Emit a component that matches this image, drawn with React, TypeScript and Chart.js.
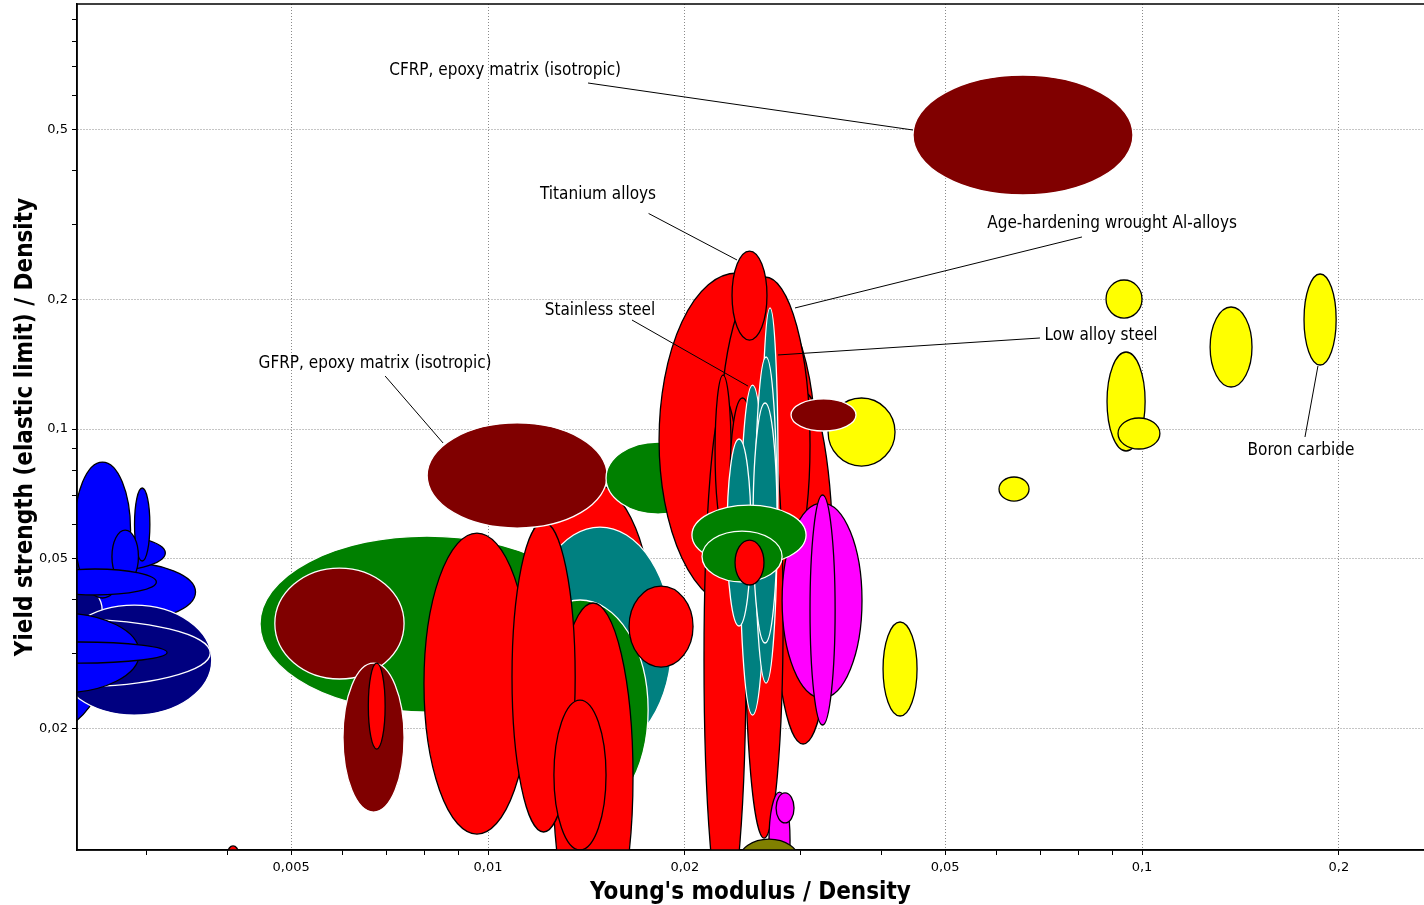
import { useEffect, useRef } from 'react';
import { Chart, registerables } from 'chart.js';

Chart.register(...registerables);

// ---- axis ranges (Young's modulus / Density on x, Yield strength / Density on y) ----
const X_MIN = 0.002352;
const X_MAX = 0.2699;
const Y_MIN = 0.01044;
const Y_MAX = 0.9788;

const xTickValues = [0.003, 0.004, 0.005, 0.006, 0.007, 0.008, 0.009, 0.01, 0.02, 0.03, 0.04, 0.05, 0.06, 0.07, 0.08, 0.09, 0.1, 0.2];
const xTickLabels = ['', '', '0,005', '', '', '', '', '0,01', '0,02', '', '', '0,05', '', '', '', '', '0,1', '0,2'];
const yTickValues = [0.02, 0.03, 0.04, 0.05, 0.06, 0.07, 0.08, 0.09, 0.1, 0.2, 0.3, 0.4, 0.5, 0.6, 0.7, 0.8, 0.9];
const yTickLabels = ['0,02', '', '', '0,05', '', '', '', '', '0,1', '0,2', '', '', '0,5', '', '', '', ''];

const xTitle = "Young's modulus / Density";
const yTitle = 'Yield strength (elastic limit) / Density';

// ---- material property envelopes (drawn in this order) ----
const materialGroup = [
  'polymer', 'polymer', 'elastomer', 'polymer', 'polymer', 'polymer', 'polymer', 'polymer',
  'elastomer', 'elastomer', 'polymer', 'polymer', 'nonferrous',
  'natural', 'composite', 'composite', 'nonferrous', 'nonferrous', 'ferrous', 'natural',
  'nonferrous', 'nonferrous', 'nonferrous', 'nonferrous', 'nonferrous', 'composite', 'natural',
  'nonferrous', 'nonferrous', 'nonferrous', 'nonferrous', 'nonferrous', 'nonferrous', 'nonferrous',
  'glass', 'glass', 'ferrous', 'ferrous', 'ferrous', 'ferrous', 'ferrous', 'natural', 'natural',
  'nonferrous', 'ceramic', 'composite', 'nonferrous', 'glass', 'glass', 'porous',
  'ceramic', 'ceramic', 'ceramic', 'ceramic', 'ceramic', 'ceramic', 'ceramic', 'composite',
];
const modulusMin = [
  0.00161, 0.00210, 0.00155, 0.00189, 0.00233, 0.00288, 0.00266, 0.00202,
  0.00219, 0.00140, 0.00168, 0.00175, 0.00400,
  0.00448, 0.00472, 0.00600, 0.00656, 0.01119, 0.01151, 0.01088,
  0.01257, 0.00798, 0.01088, 0.01261, 0.01643, 0.00807, 0.01515,
  0.01826, 0.02728, 0.02264, 0.02139, 0.02472, 0.02224, 0.02344,
  0.02816, 0.03107, 0.02429, 0.02320, 0.02624, 0.02560, 0.02542, 0.02050, 0.02124,
  0.02386, 0.03311, 0.02906, 0.02361, 0.02689, 0.02757, 0.02420,
  0.04018, 0.06044, 0.08810, 0.08841, 0.09190, 0.1271, 0.1769, 0.04465,
];
const modulusMax = [
  0.00264, 0.00357, 0.00257, 0.00321, 0.00284, 0.00304, 0.00292, 0.00311,
  0.00378, 0.00376, 0.00293, 0.00323, 0.00415,
  0.01452, 0.00744, 0.00744, 0.00696, 0.01769, 0.01911, 0.01757,
  0.01666, 0.01159, 0.01359, 0.01515, 0.02058, 0.01521, 0.02185,
  0.03162, 0.03370, 0.03107, 0.02480, 0.02826, 0.02353, 0.02560,
  0.03731, 0.03394, 0.02652, 0.02524, 0.02776, 0.02767, 0.02767, 0.03064, 0.02816,
  0.02642, 0.04191, 0.03653, 0.02670, 0.02896, 0.02937, 0.02989,
  0.04529, 0.06718, 0.1000, 0.1011, 0.1065, 0.1473, 0.1981, 0.09687,
];
const strengthMin = [
  0.01935, 0.03549, 0.03054, 0.04617, 0.04037, 0.04925, 0.04375, 0.04103,
  0.02154, 0.02504, 0.02425, 0.02847, 0.00989,
  0.02189, 0.02614, 0.01280, 0.01795, 0.01884, 0.01757, 0.01226,
  0.00610, 0.01137, 0.01150, 0.01044, 0.02787, 0.05877, 0.06335,
  0.03847, 0.01844, 0.03725, 0.00717, 0.01113, 0.05909, 0.04951,
  0.02360, 0.02042, 0.02154, 0.03474, 0.03364, 0.02558, 0.03171, 0.04819, 0.04399,
  0.04329, 0.08198, 0.09893, 0.1612, 0.00851, 0.01207, 0.00884,
  0.02143, 0.06794, 0.1814, 0.08887, 0.08982, 0.1253, 0.1410, 0.3512,
];
const strengthMax = [
  0.05365, 0.04898, 0.04692, 0.05722, 0.08376, 0.07286, 0.05814, 0.04717,
  0.03888, 0.03607, 0.03725, 0.03188, 0.01067,
  0.05630, 0.04742, 0.02847, 0.02847, 0.07606, 0.05909, 0.03994,
  0.03930, 0.05722, 0.06069, 0.02334, 0.04305, 0.1033, 0.09326,
  0.2310, 0.1220, 0.2261, 0.1169, 0.1181, 0.1336, 0.1181,
  0.06721, 0.07017, 0.1266, 0.09478, 0.1915, 0.1472, 0.1150, 0.06649, 0.05783,
  0.05511, 0.1181, 0.1175, 0.2599, 0.01425, 0.01418, 0.01107,
  0.03549, 0.07730, 0.2225, 0.1512, 0.1061, 0.1925, 0.2298, 0.6686,
];

// ---- annotations ----
const labelText = [
  'CFRP, epoxy matrix (isotropic)', 'Titanium alloys', 'Age-hardening wrought Al-alloys',
  'Stainless steel', 'Low alloy steel', 'GFRP, epoxy matrix (isotropic)', 'Boron carbide',
];
const labelX = [0.01062, 0.01473, 0.0900, 0.01483, 0.08656, 0.006718, 0.1750];
const labelY = [0.6831, 0.3512, 0.3005, 0.1884, 0.1647, 0.1417, 0.08887];
const leaderFromX = [0.01422, 0.01760, 0.08094, 0.01660, 0.06982, 0.00696, 0.1775];
const leaderFromY = [0.6405, 0.3180, 0.2803, 0.1795, 0.1630, 0.1329, 0.09580];
const leaderToX = [0.04465, 0.02403, 0.02947, 0.02498, 0.02776, 0.008535, 0.1858];
const leaderToY = [0.4977, 0.2477, 0.1915, 0.1259, 0.1488, 0.09277, 0.1403];

const groupStyles: Record<string, { fill: string; stroke: string }> = {
  polymer: { fill: '#0000ff', stroke: '#000000' },
  elastomer: { fill: '#000080', stroke: '#ffffff' },
  nonferrous: { fill: '#ff0000', stroke: '#000000' },
  ferrous: { fill: '#008080', stroke: '#ffffff' },
  composite: { fill: '#800000', stroke: '#ffffff' },
  natural: { fill: '#008000', stroke: '#ffffff' },
  ceramic: { fill: '#ffff00', stroke: '#000000' },
  glass: { fill: '#ff00ff', stroke: '#000000' },
  porous: { fill: '#808000', stroke: '#000000' },
};

const LABEL_FONT = '17px "DejaVu Sans Condensed", "DejaVu Sans", sans-serif';
const TICK_FONT = { family: '"DejaVu Sans", sans-serif', size: 13 };
const TITLE_FONT = { family: '"DejaVu Sans Condensed", "DejaVu Sans", sans-serif', size: 24, weight: 'bold' as const };
const GRID_COLOR = '#8a8a8a';

const ashbyPlugin = {
  id: 'ashby',
  beforeDatasetsDraw(chart: any) {
    const { ctx, chartArea: a, scales } = chart;
    const xs = scales.x;
    const ys = scales.y;
    ctx.save();
    ctx.beginPath();
    ctx.rect(a.left, a.top, a.right - a.left, a.bottom - a.top);
    ctx.clip();
    for (let i = 0; i < materialGroup.length; i++) {
      const st = groupStyles[materialGroup[i]];
      const x0 = xs.getPixelForValue(modulusMin[i]);
      const x1 = xs.getPixelForValue(modulusMax[i]);
      const y0 = ys.getPixelForValue(strengthMin[i]);
      const y1 = ys.getPixelForValue(strengthMax[i]);
      ctx.beginPath();
      ctx.ellipse((x0 + x1) / 2, (y0 + y1) / 2, Math.abs(x1 - x0) / 2, Math.abs(y1 - y0) / 2, 0, 0, Math.PI * 2);
      ctx.fillStyle = st.fill;
      ctx.fill();
      ctx.lineWidth = 1.3;
      ctx.strokeStyle = st.stroke;
      ctx.stroke();
    }
    // leader lines
    ctx.strokeStyle = '#000';
    ctx.lineWidth = 1;
    for (let i = 0; i < labelText.length; i++) {
      ctx.beginPath();
      ctx.moveTo(xs.getPixelForValue(leaderFromX[i]), ys.getPixelForValue(leaderFromY[i]));
      ctx.lineTo(xs.getPixelForValue(leaderToX[i]), ys.getPixelForValue(leaderToY[i]));
      ctx.stroke();
    }
    ctx.font = LABEL_FONT;
    ctx.fillStyle = '#000';
    ctx.textAlign = 'center';
    ctx.textBaseline = 'middle';
    for (let i = 0; i < labelText.length; i++) {
      ctx.fillText(labelText[i], xs.getPixelForValue(labelX[i]), ys.getPixelForValue(labelY[i]));
    }
    ctx.restore();
  },
  afterDatasetsDraw(chart: any) {
    const { ctx, chartArea: a } = chart;
    ctx.save();
    ctx.strokeStyle = '#000';
    ctx.lineWidth = 1.5;
    ctx.beginPath();
    ctx.moveTo(a.left, a.top);
    ctx.lineTo(a.right, a.top);
    ctx.moveTo(a.left, a.top);
    ctx.lineTo(a.left, a.bottom);
    ctx.lineTo(a.right, a.bottom);
    ctx.stroke();
    ctx.restore();
  },
};

export default function App() {
  const ref = useRef<HTMLCanvasElement>(null);
  useEffect(() => {
    document.body.style.margin = '0';
    const canvas = ref.current;
    if (!canvas) return;
    const chart = new Chart(canvas, {
      type: 'scatter',
      data: { datasets: [{ data: [] }] },
      options: {
        animation: false,
        responsive: false,
        maintainAspectRatio: false,
        layout: { padding: { top: 4, right: 0, bottom: 0, left: 0 } },
        plugins: { legend: { display: false }, tooltip: { enabled: false } },
        scales: {
          x: {
            type: 'logarithmic',
            min: X_MIN,
            max: X_MAX,
            afterBuildTicks: (s: any) => {
              s.ticks = xTickValues.map((v) => ({ value: v }));
            },
            afterFit: (s: any) => {
              s.height = 55;
              s.paddingLeft = 0;
              s.paddingRight = 0;
            },
            ticks: {
              autoSkip: false,
              maxRotation: 0,
              padding: 5,
              color: '#000',
              font: TICK_FONT,
              callback: (_v: any, i: number) => xTickLabels[i],
            },
            grid: {
              color: (c: any) => (xTickLabels[c.index] ? GRID_COLOR : 'rgba(0,0,0,0)'),
              tickColor: '#000',
              tickLength: 5,
              lineWidth: 1,
            },
            border: { display: true, color: '#000', width: 1.5, dash: [1, 2] },
            title: { display: true, text: xTitle, color: '#000', font: TITLE_FONT, padding: { top: 0, bottom: -2 } },
          },
          y: {
            type: 'logarithmic',
            min: Y_MIN,
            max: Y_MAX,
            afterBuildTicks: (s: any) => {
              s.ticks = yTickValues.map((v) => ({ value: v }));
            },
            afterFit: (s: any) => {
              s.width = 77;
              s.paddingTop = 0;
              s.paddingBottom = 0;
            },
            ticks: {
              autoSkip: false,
              padding: 4,
              color: '#000',
              font: TICK_FONT,
              callback: (_v: any, i: number) => yTickLabels[i],
            },
            grid: {
              color: (c: any) => (yTickLabels[c.index] ? GRID_COLOR : 'rgba(0,0,0,0)'),
              tickColor: '#000',
              tickLength: 5,
              lineWidth: 1,
            },
            border: { display: true, color: '#000', width: 1.5, dash: [1, 2] },
            title: { display: true, text: yTitle, color: '#000', font: TITLE_FONT, padding: { top: 11, bottom: 0 } },
          },
        },
      } as any,
      plugins: [ashbyPlugin],
    });
    return () => chart.destroy();
  }, []);
  return (
    <div style={{ width: 1424, height: 905 }}>
      <canvas ref={ref} width={1424} height={905} style={{ display: 'block', width: 1424, height: 905 }} />
    </div>
  );
}
